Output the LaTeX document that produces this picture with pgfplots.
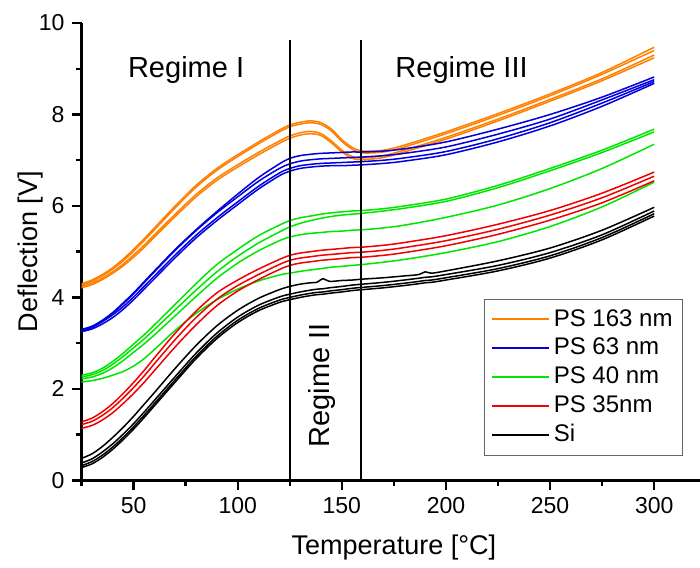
\documentclass[border=0pt]{standalone}
\usepackage{fontspec}
\setmainfont{Liberation Sans}
\usepackage{pgfplots}
\usepackage{pgfplotstable}
\pgfplotsset{compat=1.18}
\definecolor{cOr}{RGB}{255,128,0}
\definecolor{cBl}{RGB}{0,0,225}
\definecolor{cGr}{RGB}{0,230,0}
\definecolor{cRd}{RGB}{240,0,0}

\pgfplotstableread{
x    o1    o2    o3    o4
25  4.30  4.27  4.24  4.21
30  4.38  4.35  4.31  4.28
35  4.50  4.47  4.42  4.39
40  4.65  4.62  4.56  4.53
45  4.84  4.80  4.73  4.69
50  5.05  5.01  4.93  4.88
55  5.28  5.24  5.14  5.09
60  5.52  5.48  5.37  5.32
70  6.00  5.96  5.82  5.77
80  6.45  6.41  6.25  6.20
90  6.82  6.78  6.61  6.56
100 7.12  7.08  6.90  6.85
110 7.40  7.36  7.17  7.12
120 7.66  7.62  7.42  7.37
125 7.77  7.73  7.53  7.48
130 7.83  7.79  7.60  7.55
135 7.86  7.82  7.63  7.58
140 7.82  7.78  7.58  7.54
145 7.68  7.64  7.42  7.38
150 7.45  7.41  7.22  7.18
155 7.28  7.24  7.08  7.04
160 7.20  7.16  7.05  7.01
170 7.22  7.18  7.10  7.06
180 7.33  7.29  7.22  7.18
200 7.62  7.58  7.50  7.46
225 8.02  7.98  7.90  7.86
250 8.45  8.41  8.33  8.29
275 8.92  8.88  8.78  8.74
300 9.47  9.40  9.30  9.24
}\orangetab

\pgfplotstableread{
x    b1    b2    b3    b4
25  3.30  3.25  3.27  3.28
30  3.37  3.31  3.34  3.35
35  3.50  3.42  3.47  3.49
40  3.67  3.56  3.62  3.66
45  3.88  3.74  3.80  3.86
50  4.10  3.95  4.01  4.08
55  4.34  4.18  4.24  4.32
60  4.58  4.41  4.47  4.56
70  5.05  4.87  4.93  5.03
80  5.48  5.30  5.36  5.46
90  5.88  5.68  5.74  5.85
100 6.26  6.03  6.09  6.20
110 6.62  6.37  6.43  6.54
120 6.92  6.66  6.72  6.82
125 7.04  6.76  6.82  6.92
130 7.10  6.82  6.88  6.98
135 7.13  6.85  6.91  7.01
140 7.15  6.87  6.93  7.03
145 7.16  6.88  6.94  7.04
150 7.17  6.88  6.95  7.05
155 7.18  6.89  6.96  7.06
160 7.18  6.90  6.97  7.07
170 7.20  6.93  7.00  7.10
180 7.25  6.98  7.05  7.15
200 7.40  7.12  7.19  7.29
225 7.68  7.40  7.47  7.57
250 8.00  7.75  7.82  7.90
275 8.38  8.18  8.25  8.32
300 8.82  8.68  8.72  8.76
}\bluetab

\pgfplotstableread{
x    g1    g2    g3    g4
25  2.30  2.26  2.22  2.15
30  2.35  2.31  2.26  2.18
35  2.45  2.40  2.34  2.23
40  2.60  2.54  2.46  2.30
45  2.78  2.71  2.62  2.38
50  2.98  2.90  2.80  2.50
55  3.18  3.09  2.98  2.66
60  3.40  3.30  3.18  2.86
70  3.85  3.73  3.60  3.28
80  4.30  4.16  4.02  3.65
90  4.72  4.56  4.42  3.95
100 5.05  4.90  4.75  4.18
110 5.35  5.19  5.02  4.36
120 5.58  5.43  5.24  4.49
125 5.68  5.54  5.32  4.53
130 5.74  5.62  5.37  4.57
135 5.78  5.68  5.40  4.60
140 5.82  5.73  5.42  4.63
145 5.85  5.77  5.44  4.66
150 5.87  5.80  5.45  4.68
155 5.89  5.82  5.47  4.70
160 5.90  5.84  5.48  4.72
170 5.94  5.89  5.52  4.77
180 6.00  5.95  5.58  4.83
200 6.15  6.10  5.75  4.98
225 6.45  6.40  6.02  5.22
250 6.82  6.77  6.38  5.55
275 7.22  7.17  6.82  5.98
300 7.68  7.62  7.35  6.52
}\greentab

\pgfplotstableread{
x    r1    r2    r3
25  1.28  1.22  1.14
30  1.36  1.29  1.20
35  1.50  1.42  1.32
40  1.68  1.59  1.48
45  1.90  1.80  1.68
50  2.14  2.03  1.90
55  2.40  2.28  2.14
60  2.68  2.55  2.40
70  3.22  3.08  2.92
80  3.70  3.56  3.40
90  4.10  3.96  3.82
100 4.38  4.26  4.14
110 4.62  4.50  4.39
120 4.83  4.72  4.61
125 4.92  4.81  4.70
130 4.97  4.86  4.75
135 5.00  4.89  4.78
140 5.03  4.92  4.81
145 5.05  4.94  4.83
150 5.07  4.96  4.85
155 5.09  4.98  4.87
160 5.10  4.99  4.88
170 5.14  5.03  4.92
180 5.20  5.09  4.98
200 5.35  5.24  5.13
225 5.60  5.49  5.38
250 5.90  5.80  5.69
275 6.28  6.18  6.07
300 6.74  6.65  6.55
}\redtab

\pgfplotstableread{
x    k1    k2    k3    k4
25  0.48  0.28  0.32  0.38
30  0.58  0.36  0.41  0.47
35  0.74  0.50  0.55  0.62
40  0.94  0.68  0.73  0.80
45  1.16  0.89  0.94  1.01
50  1.40  1.12  1.17  1.24
55  1.66  1.37  1.42  1.49
60  1.92  1.63  1.68  1.75
70  2.45  2.15  2.20  2.27
80  2.95  2.66  2.71  2.78
90  3.38  3.10  3.15  3.22
100 3.72  3.45  3.50  3.57
110 3.98  3.71  3.76  3.83
120 4.17  3.89  3.94  4.01
125 4.24  3.95  4.00  4.07
130 4.29  4.00  4.05  4.12
135 4.32  4.04  4.09  4.16
138 4.33  4.06  4.11  4.18
141 4.41  4.07  4.12  4.19
144 4.35  4.09  4.14  4.21
150 4.37  4.12  4.17  4.24
155 4.38  4.15  4.20  4.27
160 4.40  4.17  4.22  4.29
170 4.43  4.21  4.26  4.33
180 4.47  4.26  4.31  4.38
187 4.50  4.30  4.35  4.42
190 4.56  4.32  4.37  4.44
193 4.53  4.33  4.38  4.45
200 4.58  4.38  4.43  4.50
225 4.80  4.58  4.63  4.70
250 5.08  4.86  4.91  4.98
275 5.47  5.26  5.31  5.37
300 5.97  5.78  5.83  5.89
}\blacktab

\begin{document}
\begin{tikzpicture}
\begin{axis}[
  scale only axis, width=309pt, height=228.5pt,
  xmin=25, xmax=322, ymin=0, ymax=10,
  axis x line*=bottom, axis y line*=left,
  axis line style={line width=1.2pt, -},
  tick align=outside,
  major tick length=5pt, minor tick length=3pt,
  every tick/.style={line width=1.2pt, black},
  xtick={50,100,...,300}, minor xtick={25,75,...,275},
  ytick={0,2,...,10}, minor ytick={1,3,...,9},
  tick label style={font=\fontsize{11.5}{13}\selectfont},
  /pgf/number format/assume math mode=true,
  xlabel={Temperature [°C]}, ylabel={Deflection [V]},
  label style={font=\fontsize{13.5}{16}\selectfont},
  xlabel style={at={(axis description cs:0.505,-0.1466)}, anchor=center},
  ylabel style={at={(axis description cs:-0.0833,0.5)}, anchor=center},
  legend style={at={(0.9725,0.0547)}, anchor=south east, draw=black!60,
    font=\fontsize{12}{14}\selectfont, inner sep=3pt, row sep=0.5pt},
  legend cell align=left,
  legend image code/.code={\draw[#1, sharp plot, line width=1pt] (0cm,0cm) -- (1cm,0cm);},
  every axis plot/.append style={line width=0.75pt},
]
\coordinate (ll) at (rel axis cs:0,0);
\coordinate (ur) at (rel axis cs:1,1);

\addplot[cOr, smooth] table[x=x,y=o1]{\orangetab};
\addlegendentry{PS 163 nm}
\addplot[cOr, smooth, forget plot] table[x=x,y=o2]{\orangetab};
\addplot[cOr, smooth, forget plot] table[x=x,y=o3]{\orangetab};
\addplot[cOr, smooth, forget plot] table[x=x,y=o4]{\orangetab};

\addplot[cBl, smooth] table[x=x,y=b1]{\bluetab};
\addlegendentry{PS 63 nm}
\addplot[cBl, smooth, forget plot] table[x=x,y=b2]{\bluetab};
\addplot[cBl, smooth, forget plot] table[x=x,y=b3]{\bluetab};
\addplot[cBl, smooth, forget plot] table[x=x,y=b4]{\bluetab};

\addplot[cGr, smooth] table[x=x,y=g1]{\greentab};
\addlegendentry{PS 40 nm}
\addplot[cGr, smooth, forget plot] table[x=x,y=g2]{\greentab};
\addplot[cGr, smooth, forget plot] table[x=x,y=g3]{\greentab};
\addplot[cGr, smooth, forget plot] table[x=x,y=g4]{\greentab};

\addplot[cRd, smooth] table[x=x,y=r1]{\redtab};
\addlegendentry{PS 35nm}
\addplot[cRd, smooth, forget plot] table[x=x,y=r2]{\redtab};
\addplot[cRd, smooth, forget plot] table[x=x,y=r3]{\redtab};

\addplot[black, smooth] table[x=x,y=k1]{\blacktab};
\addlegendentry{Si}
\addplot[black, smooth, forget plot] table[x=x,y=k2]{\blacktab};
\addplot[black, smooth, forget plot] table[x=x,y=k3]{\blacktab};
\addplot[black, smooth, forget plot] table[x=x,y=k4]{\blacktab};

\addplot[black, line width=1pt, forget plot] coordinates {(125,0) (125,9.62)};
\addplot[black, line width=1pt, forget plot] coordinates {(159,0) (159,9.62)};

\node[font=\fontsize{14.5}{16}\selectfont] at (axis cs:75.2,8.97) {Regime I};
\node[font=\fontsize{14.5}{16}\selectfont] at (axis cs:207.5,8.97) {Regime III};
\node[font=\fontsize{14.5}{16}\selectfont, rotate=90] at (axis cs:140.6,2.08) {Regime II};
\end{axis}
\pgfresetboundingbox
\path ([xshift=-40.75pt,yshift=-43.5pt]ll) rectangle ([yshift=11.5pt]ur);
\end{tikzpicture}
\end{document}
